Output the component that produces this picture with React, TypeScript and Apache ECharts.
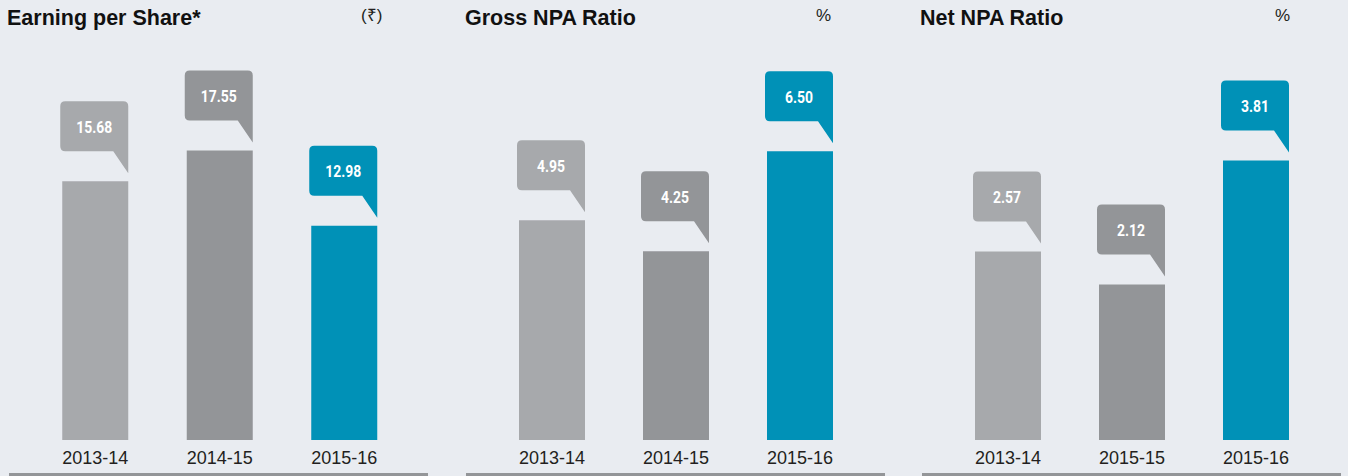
import React, { useEffect, useRef } from "react";
import * as echarts from "echarts";

const years1 = ["2013-14", "2014-15", "2015-16"];
const years2 = ["2013-14", "2014-15", "2015-16"];
const years3 = ["2013-14", "2015-15", "2015-16"];
const eps = [15.68, 17.55, 12.98];
const grossNpa = [4.95, 4.25, 6.5];
const netNpa = [2.57, 2.12, 3.81];
const titles = ["Earning per Share*", "Gross NPA Ratio", "Net NPA Ratio"];
const units = ["(₹)", "%", "%"];

const barColors = ["#a7a9ac", "#939598", "#0091b7"];
const FONT = '"Liberation Sans", Arial, Helvetica, sans-serif';
const LABEL_FONT = 'Roboto, "Liberation Sans", sans-serif';

const panels = [
  { cats: years1, vals: eps, max: 20, left: 33, width: 373.5, titleX: 7, unitX: 361, line: [9, 428] },
  { cats: years2, vals: grossNpa, max: 7.43, left: 490, width: 372, titleX: 465, unitX: 816, line: [466, 885] },
  { cats: years3, vals: netNpa, max: 4.5, left: 946, width: 372, titleX: 920, unitX: 1275, line: [922, 1341] },
];

function renderCallout(params: any, api: any) {
  const idx = api.value(0);
  const v = api.value(1);
  const p = api.coord([idx, v]);
  const cx = p[0];
  const top = p[1];
  const L = cx - 35, R = cx + 33, T = top - 80, B = top - 30, tip = top - 8, r = 5, tx = R - 15;
  const d = `M${L + r},${T} L${R - r},${T} Q${R},${T} ${R},${T + r} L${R},${tip} L${tx},${B} L${L + r},${B} Q${L},${B} ${L},${B - r} L${L},${T + r} Q${L},${T} ${L + r},${T} Z`;
  const color = barColors[idx];
  return {
    type: "group",
    children: [
      { type: "path", shape: { pathData: d }, style: { fill: color } },
      {
        type: "text",
        x: (L + R) / 2,
        y: (T + B) / 2 + 1,
        scaleX: 0.82,
        style: {
          text: Number(v).toFixed(2),
          x: 0,
          y: 0,
          fill: "#ffffff",
          font: `bold 17px ${LABEL_FONT}`,
          align: "center",
          verticalAlign: "middle",
        },
      },
    ],
  };
}

export default function App() {
  const ref = useRef<HTMLDivElement>(null);
  useEffect(() => {
    if (!ref.current) return;
    const chart = echarts.init(ref.current, undefined, { renderer: "svg" });
    const option: any = {
      animation: false,
      backgroundColor: "#e9ecf1",
      title: [
        ...panels.map((p, i) => ({
          text: titles[i],
          left: p.titleX,
          top: 7,
          padding: 0,
          textStyle: { fontFamily: FONT, fontSize: 21.5, fontWeight: "bold", color: "#111111" },
        })),
        ...panels.map((p, i) => ({
          text: units[i],
          left: p.unitX,
          top: 7,
          padding: 0,
          textStyle: { fontFamily: FONT, fontSize: 17, fontWeight: "normal", color: "#231f20" },
        })),
      ],
      grid: panels.map((p) => ({ left: p.left, width: p.width, top: 110, bottom: 36 })),
      xAxis: panels.map((p, i) => ({
        type: "category",
        gridIndex: i,
        data: p.cats,
        axisLine: { show: false },
        axisTick: { show: false },
        axisLabel: { fontFamily: FONT, fontSize: 18, color: "#231f20", margin: 9 },
      })),
      yAxis: panels.map((p, i) => ({
        type: "value",
        gridIndex: i,
        min: 0,
        max: p.max,
        show: false,
        splitLine: { show: false },
      })),
      series: [
        ...panels.map((p, i) => ({
          type: "bar",
          xAxisIndex: i,
          yAxisIndex: i,
          barWidth: 66,
          data: p.vals.map((v, j) => ({ value: v, itemStyle: { color: barColors[j] } })),
        })),
        ...panels.map((p, i) => ({
          type: "custom",
          coordinateSystem: "cartesian2d",
          xAxisIndex: i,
          yAxisIndex: i,
          z: 5,
          data: p.vals.map((v, j) => [j, v]),
          renderItem: renderCallout,
        })),
      ],
      graphic: panels.map((p) => ({
        type: "line",
        shape: { x1: p.line[0], y1: 474.5, x2: p.line[1], y2: 474.5 },
        style: { stroke: "#939598", lineWidth: 3 },
      })),
    };
    chart.setOption(option);
    return () => chart.dispose();
  }, []);
  return (
    <div
      ref={ref}
      style={{ position: "fixed", left: 0, top: 0, width: 1348, height: 476 }}
    />
  );
}
